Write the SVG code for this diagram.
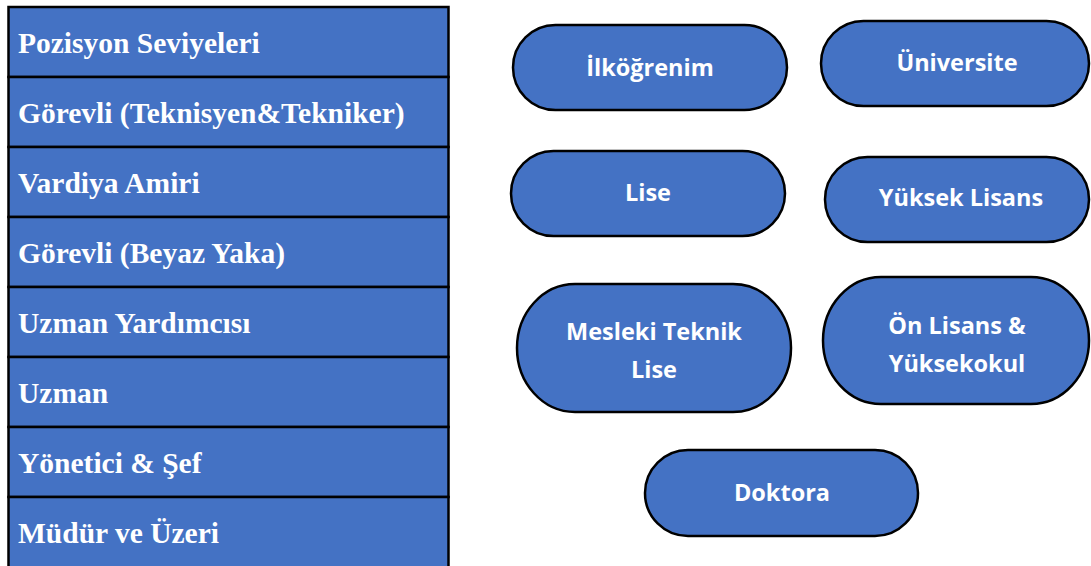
<svg xmlns="http://www.w3.org/2000/svg" width="1091" height="566" viewBox="0 0 1091 566">
<style>
.cell{fill:#4472C4;stroke:#000;stroke-width:2.5}
.rt{font-family:"Liberation Serif",serif;font-weight:bold;font-size:29.5px;fill:#fff}
.pill{fill:#4472C4;stroke:#000;stroke-width:2.5}
.pt{font-family:"Open Sans",Lato,sans-serif;font-weight:bold;font-size:23.5px;fill:#fff;text-anchor:middle}
</style>
<rect width="1091" height="566" fill="#fff"/>
<g id="table">
<rect class="cell" x="8.5" y="7" width="440" height="70"/>
<rect class="cell" x="8.5" y="77" width="440" height="70"/>
<rect class="cell" x="8.5" y="147" width="440" height="70"/>
<rect class="cell" x="8.5" y="217" width="440" height="70"/>
<rect class="cell" x="8.5" y="287" width="440" height="70"/>
<rect class="cell" x="8.5" y="357" width="440" height="70"/>
<rect class="cell" x="8.5" y="427" width="440" height="70"/>
<rect class="cell" x="8.5" y="497" width="440" height="80"/>
<text class="rt" x="18" y="53">Pozisyon Seviyeleri</text>
<text class="rt" x="18" y="123">Görevli (Teknisyen&amp;Tekniker)</text>
<text class="rt" x="18" y="193">Vardiya Amiri</text>
<text class="rt" x="18" y="263">Görevli (Beyaz Yaka)</text>
<text class="rt" x="18" y="333">Uzman Yardımcısı</text>
<text class="rt" x="18" y="403">Uzman</text>
<text class="rt" x="18" y="473">Yönetici &amp; Şef</text>
<text class="rt" x="18" y="543">Müdür ve Üzeri</text>
</g>
<g id="ilkogrenim"><rect class="pill" x="513" y="25" width="274" height="85" rx="42.5"/><text class="pt" x="650" y="76">İlköğrenim</text></g>
<g id="universite"><rect class="pill" x="821" y="21" width="268" height="85" rx="42.5"/><text class="pt" x="957" y="71">Üniversite</text></g>
<g id="lise"><rect class="pill" x="511" y="151" width="274" height="85" rx="42.5"/><text class="pt" x="648" y="201">Lise</text></g>
<g id="yuksek-lisans"><rect class="pill" x="825" y="157" width="264" height="85" rx="42.5"/><text class="pt" x="961" y="206">Yüksek Lisans</text></g>
<g id="mesleki"><rect class="pill" x="517" y="284" width="274" height="128" rx="58" ry="64"/><text class="pt" x="654" y="340">Mesleki Teknik</text><text class="pt" x="654" y="378">Lise</text></g>
<g id="onlisans"><rect class="pill" x="823" y="277" width="266" height="127" rx="58" ry="63.5"/><text class="pt" x="957" y="334">Ön Lisans &amp;</text><text class="pt" x="957" y="372">Yüksekokul</text></g>
<g id="doktora"><rect class="pill" x="645" y="450" width="273" height="86" rx="43"/><text class="pt" x="782" y="501">Doktora</text></g>
<g id="connectors"/>
</svg>
